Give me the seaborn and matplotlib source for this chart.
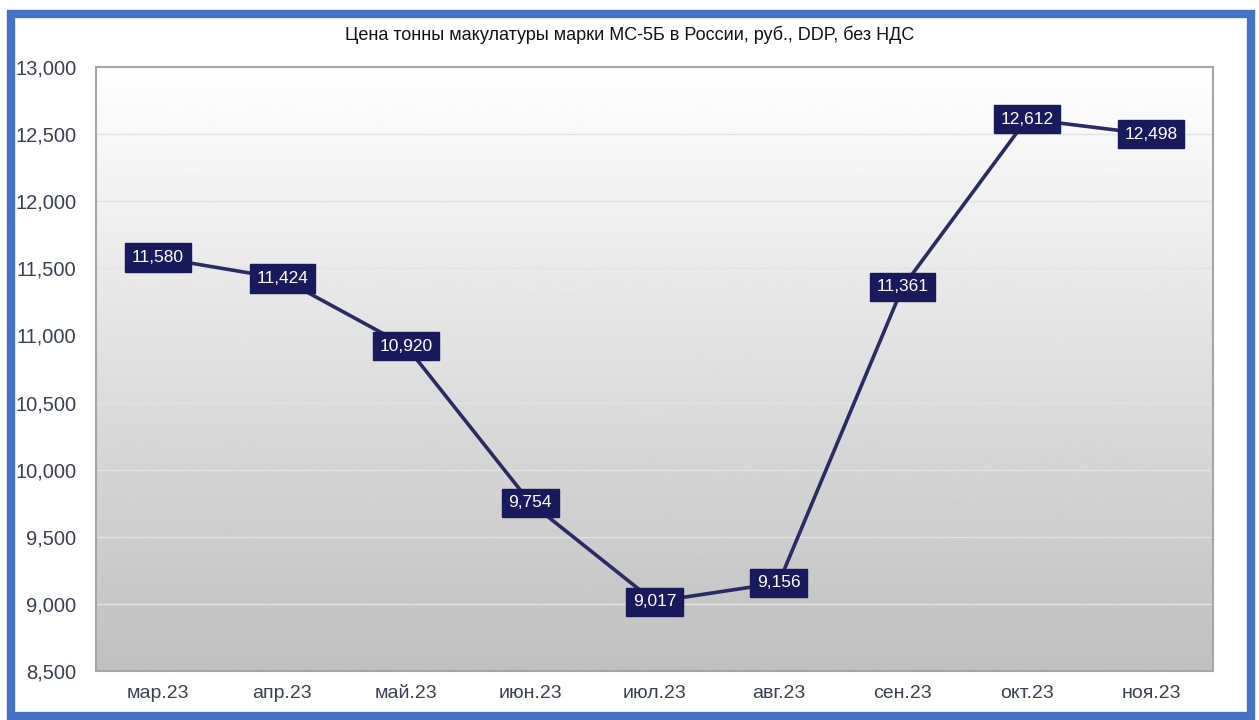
import matplotlib
matplotlib.use("Agg")
import matplotlib.pyplot as plt
import matplotlib.patches as mpatches
import seaborn as sns
import numpy as np
import pandas as pd

# Данные с графика
months = ["мар.23", "апр.23", "май.23", "июн.23", "июл.23", "авг.23", "сен.23", "окт.23", "ноя.23"]
prices = [11580, 11424, 10920, 9754, 9017, 9156, 11361, 12612, 12498]
y_ticks = [8500, 9000, 9500, 10000, 10500, 11000, 11500, 12000, 12500, 13000]

title = "Цена тонны макулатуры марки МС-5Б в России, руб., DDP, без НДС"

df = pd.DataFrame({"month": months, "price": prices})
df["pos"] = range(len(df))

sns.set_theme(style="white")
plt.rcParams["font.family"] = ["Liberation Sans", "DejaVu Sans"]

fig = plt.figure(figsize=(12.59, 7.2), dpi=100)
ax = fig.add_axes([0.0762, 0.068, 0.8873, 0.839])

# градиентный фон: белый сверху, серый снизу
grad = np.linspace(1.0, 0.75, 256).reshape(-1, 1)
ax.imshow(grad, cmap="gray", vmin=0, vmax=1, aspect="auto", origin="upper",
          extent=[-0.5, len(months) - 0.5, 8500, 13000], zorder=0)

sns.lineplot(data=df, x="pos", y="price", ax=ax, color="#2b2b63",
             linewidth=2.6, zorder=3)

for x, y in zip(df["pos"], df["price"]):
    ax.text(x, y, f"{y:,}", ha="center", va="center", fontsize=12.5,
            color="white", zorder=5,
            bbox=dict(boxstyle="square,pad=0.38", fc="#191a5c", ec="#191a5c"))

ax.set_xlim(-0.5, len(months) - 0.5)
ax.set_ylim(8500, 13000)
ax.set_yticks(y_ticks)
ax.set_yticklabels([f"{v:,}" for v in y_ticks], fontsize=14.5, color="#3a3f55")
ax.set_xticks(df["pos"])
ax.set_xticklabels(months, fontsize=14, color="#3a3f55")
ax.tick_params(axis="y", pad=14, length=0)
ax.tick_params(axis="x", pad=10, length=0)
ax.set_xlabel("")
ax.set_ylabel("")
for yv in y_ticks[1:-1]:
    ax.axhline(yv, color="#e2e2e2", linewidth=1, zorder=1)
for s in ax.spines.values():
    s.set_color("#a6a6a6")
    s.set_linewidth(1.5)

fig.text(0.5, 0.951, title, ha="center", va="center", fontsize=13, color="#111111")

# синяя рамка вокруг рисунка
fig.patches.append(mpatches.Rectangle((0.0085, 0.006), 0.9855, 0.974, transform=fig.transFigure,
                                      fill=False, ec="#4472c4", lw=6, zorder=10))

fig.savefig("out.png", dpi=100)
